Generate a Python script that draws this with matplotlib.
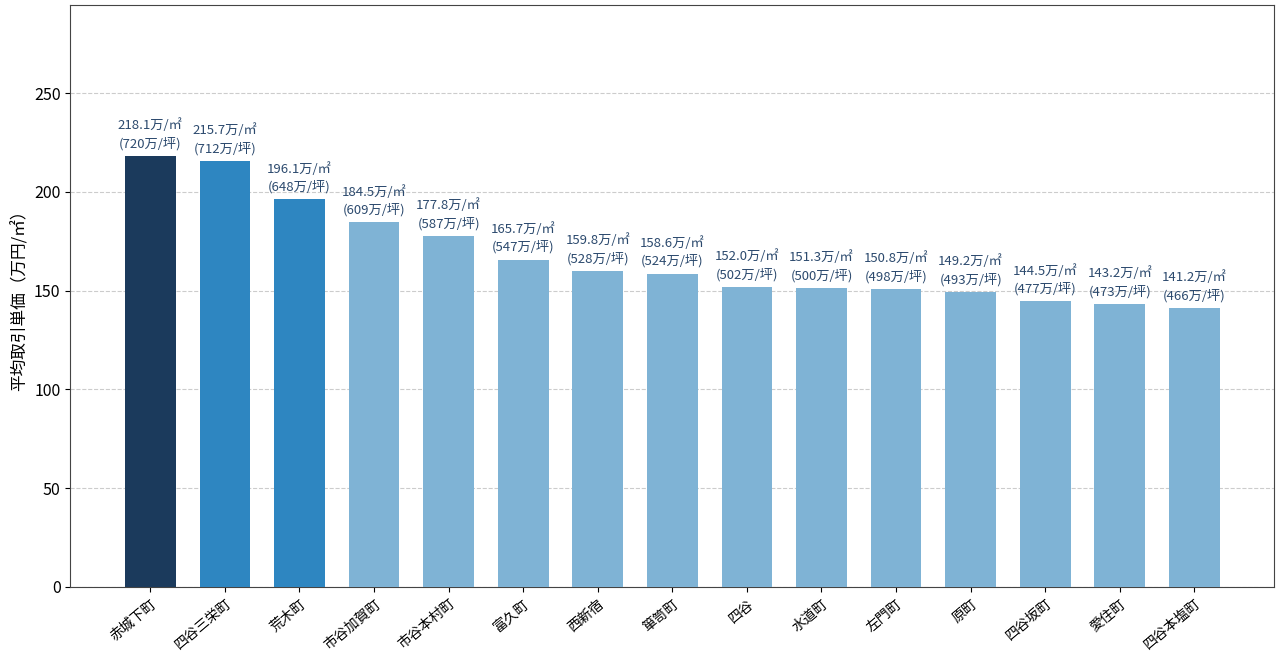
import matplotlib
matplotlib.use("Agg")
import matplotlib.pyplot as plt
import numpy as np

plt.rcParams['font.family'] = ['Noto Sans CJK JP', 'DejaVu Sans']

categories = ["赤城下町", "四谷三栄町", "荒木町", "市谷加賀町", "市谷本村町", "富久町", "西新宿",
              "箪笥町", "四谷", "水道町", "左門町", "原町", "四谷坂町", "愛住町", "四谷本塩町"]
price_m2 = [218.1, 215.7, 196.1, 184.5, 177.8, 165.7, 159.8, 158.6, 152.0, 151.3, 150.8, 149.2, 144.5, 143.2, 141.2]
price_tsubo = [720, 712, 648, 609, 587, 547, 528, 524, 502, 500, 498, 493, 477, 473, 466]

colors = ["#1b3a5c", "#2e86c1", "#2e86c1"] + ["#7fb3d5"] * 12

fig, ax = plt.subplots(figsize=(12.77, 6.55), dpi=100)
fig.subplots_adjust(left=0.055, right=0.998, top=0.992, bottom=0.104)

x = np.arange(len(categories))
bars = ax.bar(x, price_m2, width=0.68, color=colors, zorder=3)

for xi, v, t in zip(x, price_m2, price_tsubo):
    ax.annotate(f"{v:.1f}万/㎡\n({t}万/坪)", xy=(xi, v), xytext=(0, 4),
                textcoords="offset points", ha="center", va="bottom",
                fontsize=9.5, color="#2c4a6e", linespacing=1.45)

ax.set_ylim(0, max(price_m2) * 1.35)
ax.set_xticks(x)
ax.set_xticklabels(categories, rotation=40, ha="right", rotation_mode="anchor", fontsize=10)
ax.set_ylabel("平均取引単価（万円/㎡）", fontsize=12)
ax.tick_params(axis='y', labelsize=11.5)
ax.yaxis.grid(True, linestyle="--", color="#cccccc", linewidth=0.8, zorder=0)
ax.set_axisbelow(True)
for s in ax.spines.values():
    s.set_color("#444444")

fig.savefig("out.png", dpi=100)
